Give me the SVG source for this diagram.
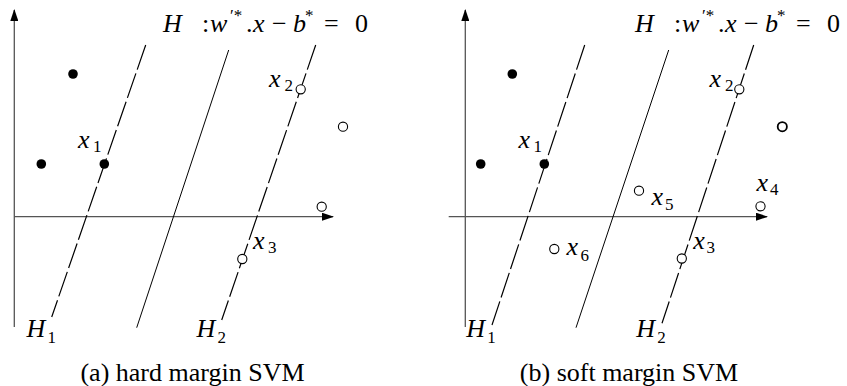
<svg xmlns="http://www.w3.org/2000/svg" width="847" height="386" viewBox="0 0 847 386">
<style>
.ax{stroke:#555;stroke-width:1.3;fill:none}
.h{stroke:#000;stroke-width:1;fill:none}
.hd{stroke:#000;stroke-width:1.2;fill:none;stroke-dasharray:26 4}
.pos{fill:#000}
.neg{fill:#fff;stroke:#000;stroke-width:1.1}
.negb{fill:#fff;stroke:#000;stroke-width:1.8}
.m{font-style:italic;font-size:26px;fill:#000}
.r{font-style:normal}
.s{font-style:normal;font-size:17px;fill:#000}
.cap{font-size:26px;fill:#000;text-anchor:middle}
</style>
<defs>
<marker id="arr" markerUnits="userSpaceOnUse" markerWidth="12" markerHeight="8" refX="11" refY="4" orient="auto">
<path d="M0,0 L12,4 L0,8 z" fill="#000"/>
</marker>
</defs>

<g id="connectors">
<line class="ax" x1="14.3" y1="327" x2="14.3" y2="10" marker-end="url(#arr)"/>
<line class="ax" x1="14" y1="216.7" x2="333" y2="216.7" marker-end="url(#arr)"/>
<line class="hd" x1="145.7" y1="45" x2="51.7" y2="317"/>
<line class="h" x1="228.7" y1="50" x2="136.7" y2="327.7"/>
<line class="hd" x1="315.7" y1="45" x2="221.7" y2="320"/>
<line class="ax" x1="465.3" y1="327" x2="465.3" y2="10" marker-end="url(#arr)"/>
<line class="ax" x1="448.7" y1="216.7" x2="767" y2="216.7" marker-end="url(#arr)"/>
<line class="hd" x1="584.7" y1="45" x2="492" y2="325"/>
<line class="h" x1="668.7" y1="50" x2="576" y2="327.7"/>
<line class="hd" x1="753.7" y1="45" x2="662" y2="323.3"/>
</g>

<g id="panel-a" font-family="Liberation Serif, serif">
<text class="m" id="eq-a" font-family="Liberation Serif, serif"><tspan x="163" y="32.3">H</tspan><tspan class="r" x="202" y="32.3">:</tspan><tspan x="210" y="32.3">w</tspan><tspan class="s" x="230" y="21">′*</tspan><tspan class="r" x="246" y="32.3">.</tspan><tspan x="253" y="32.3">x</tspan><tspan class="r" x="272" y="32.3">−</tspan><tspan x="293" y="32.3">b</tspan><tspan class="s" x="305" y="21">*</tspan><tspan class="r" x="324" y="32.3">=</tspan><tspan class="r" x="355" y="32.3">0</tspan></text>
<g id="a-p1"><circle class="pos" cx="73" cy="74" r="4.8"/></g>
<g id="a-p2"><circle class="pos" cx="41.3" cy="164" r="4.8"/></g>
<g id="a-x1"><circle class="pos" cx="104.3" cy="164" r="4.8"/><text class="m" font-family="Liberation Serif, serif" x="78" y="148">x<tspan class="s" x="93" y="152">1</tspan></text></g>
<g id="a-x2"><circle class="neg" cx="300.7" cy="89.3" r="4.6"/><text class="m" font-family="Liberation Serif, serif" x="269" y="86.5">x<tspan class="s" x="284.5" y="90.5">2</tspan></text></g>
<g id="a-n1"><circle class="neg" cx="343" cy="126.7" r="4.6"/></g>
<g id="a-n2"><circle class="neg" cx="321.7" cy="206.7" r="4.6"/></g>
<g id="a-x3"><circle class="neg" cx="242.3" cy="259" r="4.6"/><text class="m" font-family="Liberation Serif, serif" x="253" y="248.5">x<tspan class="s" x="268" y="253">3</tspan></text></g>
<text class="m" font-family="Liberation Serif, serif" x="26.5" y="336.7">H<tspan class="s" x="47.5" y="342.7">1</tspan></text>
<text class="m" font-family="Liberation Serif, serif" x="196.5" y="336.7">H<tspan class="s" x="217.5" y="342.7">2</tspan></text>
<text class="cap" font-family="Liberation Serif, serif" x="192.5" y="380.5">(a) hard margin SVM</text>
</g>

<g id="panel-b" font-family="Liberation Serif, serif">
<text class="m" id="eq-b" font-family="Liberation Serif, serif"><tspan x="635" y="32.3">H</tspan><tspan class="r" x="674" y="32.3">:</tspan><tspan x="682" y="32.3">w</tspan><tspan class="s" x="702" y="21">′*</tspan><tspan class="r" x="718" y="32.3">.</tspan><tspan x="725" y="32.3">x</tspan><tspan class="r" x="744" y="32.3">−</tspan><tspan x="765" y="32.3">b</tspan><tspan class="s" x="777" y="21">*</tspan><tspan class="r" x="796" y="32.3">=</tspan><tspan class="r" x="827" y="32.3">0</tspan></text>
<g id="b-p1"><circle class="pos" cx="512.3" cy="74" r="4.8"/></g>
<g id="b-p2"><circle class="pos" cx="480.7" cy="164" r="4.8"/></g>
<g id="b-x1"><circle class="pos" cx="544.3" cy="164" r="4.8"/><text class="m" font-family="Liberation Serif, serif" x="518.5" y="148">x<tspan class="s" x="533.5" y="152">1</tspan></text></g>
<g id="b-x2"><circle class="neg" cx="739.3" cy="89.3" r="4.6"/><text class="m" font-family="Liberation Serif, serif" x="709.5" y="86.5">x<tspan class="s" x="725" y="90.5">2</tspan></text></g>
<g id="b-n1"><circle class="negb" cx="782.3" cy="126.7" r="4.6"/></g>
<g id="b-x4"><circle class="neg" cx="760.5" cy="206.3" r="4.6"/><text class="m" font-family="Liberation Serif, serif" x="756.5" y="190.5">x<tspan class="s" x="770" y="194.5">4</tspan></text></g>
<g id="b-x5"><circle class="neg" cx="639" cy="190.7" r="4.6"/><text class="m" font-family="Liberation Serif, serif" x="651.5" y="205">x<tspan class="s" x="665" y="210">5</tspan></text></g>
<g id="b-x6"><circle class="neg" cx="554.3" cy="249" r="4.6"/><text class="m" font-family="Liberation Serif, serif" x="566.5" y="255">x<tspan class="s" x="580.5" y="261">6</tspan></text></g>
<g id="b-x3"><circle class="neg" cx="681.8" cy="258.5" r="4.6"/><text class="m" font-family="Liberation Serif, serif" x="693.3" y="248.5">x<tspan class="s" x="706.5" y="253">3</tspan></text></g>
<text class="m" font-family="Liberation Serif, serif" x="466.3" y="336.7">H<tspan class="s" x="487.3" y="342.7">1</tspan></text>
<text class="m" font-family="Liberation Serif, serif" x="636.3" y="336.7">H<tspan class="s" x="657.3" y="342.7">2</tspan></text>
<text class="cap" font-family="Liberation Serif, serif" x="629" y="380.5">(b) soft margin SVM</text>
</g>
</svg>
